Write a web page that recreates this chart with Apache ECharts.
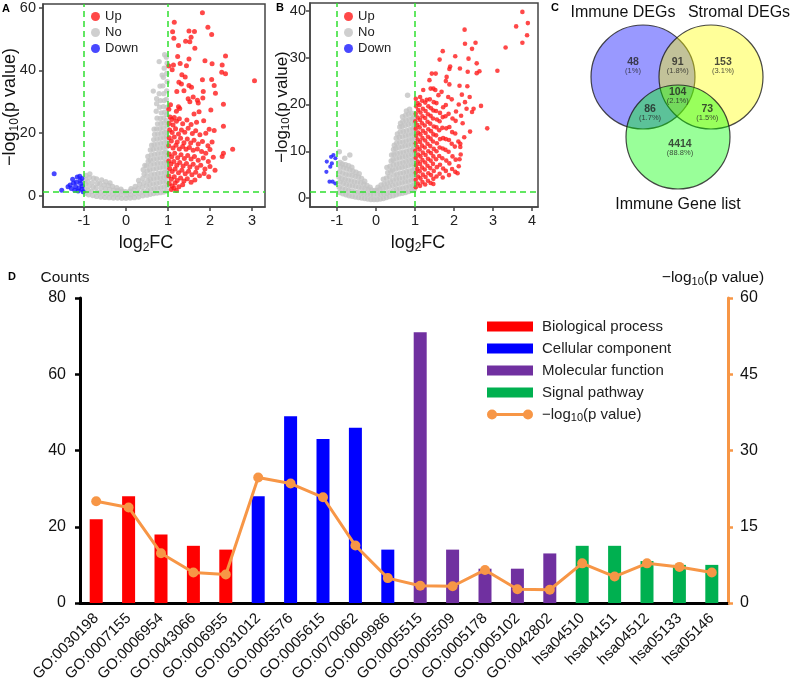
<!DOCTYPE html>
<html>
<head>
<meta charset="utf-8">
<script src="https://cdn.jsdelivr.net/npm/echarts@6/dist/echarts.min.js"></script>
<style>html,body{margin:0;padding:0;background:#fff}#c{width:791px;height:687px}</style>
</head>
<body>
<div id="c"></div>
<script>
// ---------- Panel A volcano (log2FC, -log10 p) ----------
const volcanoA_up = [
[1.82,58.3],[1.15,55.3],[1.95,53.7],[1.11,52.3],[1.50,52.5],[1.63,52.4],[2.04,51.4],[1.14,50.2],[1.55,50.5],[1.42,49.3],[1.52,49.1],[1.25,47.9],[1.64,47.0],[2.37,44.6],[1.23,44.4],[1.50,43.6],[1.88,43.1],[1.29,42.2],[1.02,41.4],[1.13,41.7],[2.05,42.1],[2.29,41.7],[1.44,41.5],[1.10,40.2],[2.28,39.4],[2.37,38.9],[1.33,38.6],[1.41,37.9],[1.82,37.0],[2.04,37.1],[3.06,36.7],[1.26,36.2],[1.32,35.7],[1.50,35.2],[1.56,34.6],[2.10,35.2],[1.21,33.3],[2.13,32.7],[1.38,33.5],[1.84,33.3],[1.60,31.5],[1.48,31.0],[1.52,30.0],[1.83,31.2],[1.70,30.5],[1.72,29.6],[2.32,29.2],[1.25,28.4],[1.28,27.9],[1.20,27.0],[2.02,27.4],[1.74,26.8],[1.62,26.1],[1.02,27.6],[1.06,29.1],
[1.05,25.2],[1.09,24.4],[1.15,25.0],[1.03,23.1],[1.12,22.6],[1.20,23.8],[1.27,24.6],[1.35,23.0],[1.45,24.2],[1.55,22.8],[1.68,23.5],[1.85,24.0],[2.32,22.2],[1.98,21.3],[2.10,20.9],[1.04,21.0],[1.10,20.2],[1.18,21.4],[1.25,19.8],[1.32,21.0],[1.40,20.3],[1.48,21.6],[1.58,19.9],[1.66,20.8],[1.76,19.5],[1.90,20.0],[1.03,18.6],[1.08,17.5],[1.15,18.8],[1.22,17.2],[1.30,18.4],[1.38,17.0],[1.46,18.2],[1.54,16.9],[1.62,17.8],[1.72,16.6],[1.82,17.4],[1.95,16.0],[2.05,17.2],[1.02,16.0],[1.12,15.3],[1.19,16.2],[1.27,15.0],[1.35,15.8],[1.43,14.9],[1.51,15.5],[1.60,14.6],[1.70,15.0],[1.80,14.2],[1.90,13.6],[2.00,14.8],[2.54,14.9],[2.32,13.6],[2.29,12.6],
[1.03,13.4],[1.09,12.5],[1.16,13.6],[1.23,12.2],[1.31,13.2],[1.39,12.0],[1.47,12.9],[1.55,11.8],[1.63,12.6],[1.72,11.4],[1.84,12.1],[1.96,11.0],[2.08,12.4],[1.02,11.2],[1.07,10.2],[1.14,11.0],[1.21,9.8],[1.28,10.7],[1.36,9.6],[1.44,10.4],[1.52,9.3],[1.60,10.1],[1.69,9.0],[1.78,9.8],[1.88,8.6],[2.00,9.4],[2.12,8.2],[1.04,8.8],[1.10,7.8],[1.17,8.6],[1.25,7.4],[1.33,8.2],[1.41,7.1],[1.49,7.9],[1.57,6.8],[1.66,7.6],[1.75,6.5],[1.86,7.2],[1.97,6.2],[1.02,6.4],[1.08,5.4],[1.15,6.2],[1.22,5.0],[1.30,5.8],[1.38,4.8],[1.46,5.5],[1.55,4.4],[1.64,5.1],[1.03,4.0],[1.10,3.2],[1.17,4.2],[1.26,3.0],[1.35,3.6],[1.08,2.1],[1.20,1.8],[1.14,2.6]
];
const volcanoA_no = [
[-0.97,0.9],[-0.98,2.4],[-0.96,3.9],[-0.97,5.3],[-0.95,6.6],[-0.89,0.4],[-0.90,1.8],[-0.88,3.2],[-0.91,4.6],[-0.87,5.9],[-0.86,7.1],
[-0.79,0.2],[-0.81,1.5],[-0.78,2.9],[-0.80,4.3],[-0.77,5.7],[-0.70,-0.1],[-0.69,1.3],[-0.71,2.7],[-0.68,4.1],[-0.70,5.5],
[-0.60,-0.3],[-0.61,1.1],[-0.59,2.5],[-0.62,3.9],[-0.58,5.2],[-0.50,-0.4],[-0.51,0.9],[-0.49,2.3],[-0.52,3.6],[-0.48,4.6],
[-0.40,-0.5],[-0.41,0.8],[-0.39,2.1],[-0.42,3.4],[-0.38,4.2],[-0.30,-0.6],[-0.31,0.7],[-0.29,1.9],[-0.32,3.1],
[-0.20,-0.6],[-0.21,0.6],[-0.19,1.8],[-0.22,2.7],[-0.10,-0.7],[-0.11,0.5],[-0.09,1.6],[-0.12,2.2],[0.00,-0.7],[0.01,0.4],[-0.01,1.4],
[0.10,-0.6],[0.11,0.5],[0.09,1.6],[0.12,2.4],[0.20,-0.5],[0.21,0.8],[0.19,2.0],[0.22,3.1],
[0.30,-0.3],[0.31,1.0],[0.29,2.4],[0.32,3.8],[0.30,5.0],[0.40,0.1],[0.41,1.4],[0.39,2.8],[0.42,4.2],[0.40,5.6],[0.43,7.0],[0.41,8.4],[0.45,9.8],
[0.50,0.3],[0.51,1.8],[0.49,3.3],[0.52,4.9],[0.50,6.4],[0.51,8.0],[0.49,9.6],[0.53,11.1],[0.52,12.6],
[0.58,0.6],[0.59,2.2],[0.57,3.7],[0.58,5.3],[0.60,6.8],[0.57,8.4],[0.59,10.0],[0.58,11.5],[0.60,13.1],[0.58,14.7],[0.61,16.2],
[0.66,0.8],[0.67,2.4],[0.65,3.9],[0.66,5.5],[0.68,7.0],[0.65,8.6],[0.67,10.2],[0.66,11.7],[0.68,13.3],[0.65,14.9],[0.67,16.4],[0.66,18.0],[0.68,19.6],[0.67,21.3],
[0.74,1.0],[0.75,2.6],[0.73,4.1],[0.74,5.7],[0.76,7.2],[0.73,8.8],[0.75,10.4],[0.74,11.9],[0.76,13.5],[0.73,15.1],[0.75,16.6],[0.74,18.2],[0.76,19.8],[0.73,21.4],[0.75,23.0],[0.74,24.8],[0.72,27.0],[0.73,29.4],
[0.82,1.1],[0.83,2.7],[0.81,4.3],[0.82,5.8],[0.84,7.4],[0.81,9.0],[0.83,10.5],[0.82,12.1],[0.84,13.7],[0.81,15.2],[0.83,16.8],[0.82,18.4],[0.84,20.0],[0.81,21.5],[0.83,23.1],[0.82,24.7],[0.84,26.5],[0.80,28.3],[0.82,30.4],[0.79,32.6],[0.81,35.0],[0.79,42.8],
[0.90,1.3],[0.91,2.9],[0.89,4.5],[0.90,6.0],[0.92,7.6],[0.89,9.2],[0.91,10.7],[0.90,12.3],[0.92,13.9],[0.89,15.4],[0.91,17.0],[0.90,18.6],[0.92,20.2],[0.89,21.7],[0.91,23.3],[0.90,24.9],[0.92,26.7],[0.89,28.5],[0.91,30.4],[0.90,32.6],[0.88,35.1],[0.89,37.8],[0.91,40.7],[0.92,45.0],
[0.97,1.6],[0.98,3.2],[0.96,4.7],[0.97,6.3],[0.98,7.9],[0.96,9.4],[0.97,11.0],[0.98,12.6],[0.96,14.1],[0.97,15.7],[0.98,17.3],[0.96,18.9],[0.97,20.4],[0.98,22.2],[0.96,24.0],[0.97,26.0],[0.98,28.3],[0.96,30.8],[0.97,33.5],[0.98,36.4],[0.97,39.0],[0.98,42.3],[0.96,44.2],
[0.65,33.4],[0.73,31.0],[0.86,38.5]
];
const volcanoA_down = [
[-1.71,7.1],[-1.53,1.9],[-1.27,5.4],[-1.25,4.2],[-1.16,6.1],[-1.10,6.3],[-1.05,5.6],[-1.33,3.5],[-1.20,3.0],[-1.12,2.6],[-1.05,2.2],[-1.18,4.4],[-1.08,4.0],[-1.30,2.4],[-1.22,1.9],[-1.04,3.2],[-1.14,1.6],[-1.02,1.4],[-1.38,3.0],[-1.09,5.0]
];

// ---------- Panel B volcano ----------
const volcanoB_up = [
[1.02,2.3],[1.02,3.9],[1.02,5.4],[1.03,7.0],[1.02,8.6],[1.01,10.1],[1.02,11.7],[1.03,13.3],[1.02,14.8],[1.01,16.4],[1.02,18.0],[1.03,19.6],[1.02,21.2],
[1.07,3.1],[1.08,4.6],[1.06,6.2],[1.07,7.8],[1.08,9.3],[1.06,10.9],[1.07,12.5],[1.08,14.0],[1.06,15.6],[1.07,17.2],[1.08,18.8],[1.07,20.3],
[1.13,2.6],[1.14,4.2],[1.12,5.7],[1.13,7.3],[1.14,8.9],[1.12,10.4],[1.13,12.0],[1.14,13.6],[1.12,15.1],[1.13,16.7],[1.14,18.3],[1.12,19.9],[1.13,21.6],
[1.19,3.4],[1.20,5.0],[1.18,6.5],[1.19,8.1],[1.20,9.7],[1.18,11.2],[1.19,12.8],[1.20,14.4],[1.18,16.0],[1.19,17.5],[1.20,19.1],[1.18,20.8],[1.21,23.1],
[1.26,2.9],[1.27,4.5],[1.25,6.1],[1.26,7.6],[1.27,9.2],[1.25,10.8],[1.26,12.3],[1.27,13.9],[1.25,15.5],[1.26,17.1],[1.27,18.6],[1.26,20.4],
[1.33,3.7],[1.34,5.3],[1.32,6.9],[1.33,8.4],[1.34,10.0],[1.32,11.6],[1.33,13.1],[1.34,14.7],[1.32,16.3],[1.33,17.9],[1.34,19.6],[1.30,21.0],[1.38,21.1],
[1.40,3.2],[1.41,4.9],[1.39,6.4],[1.40,8.0],[1.41,9.6],[1.39,11.1],[1.40,12.7],[1.41,14.3],[1.39,15.9],[1.40,17.6],[1.41,19.2],[1.40,23.4],[1.37,25.2],
[1.47,4.1],[1.48,5.8],[1.46,7.3],[1.47,8.9],[1.48,10.5],[1.46,12.1],[1.47,13.6],[1.48,15.3],[1.46,17.0],[1.47,18.7],[1.48,20.5],[1.47,23.4],[1.43,26.6],[1.53,26.6],[1.47,3.0],
[1.55,4.6],[1.56,6.6],[1.54,8.3],[1.55,10.0],[1.56,11.7],[1.54,13.4],[1.55,15.1],[1.56,16.8],[1.54,18.6],[1.55,20.3],[1.52,23.1],
[1.63,5.2],[1.64,7.1],[1.62,9.0],[1.63,10.8],[1.64,12.6],[1.62,14.5],[1.63,16.4],[1.64,18.2],[1.60,22.0],[1.68,22.7],[1.63,29.6],
[1.71,4.4],[1.72,6.3],[1.70,8.5],[1.71,10.6],[1.72,12.8],[1.70,15.0],[1.71,17.3],[1.72,19.4],[1.71,31.4],
[1.79,5.8],[1.80,8.0],[1.78,10.3],[1.79,12.6],[1.80,14.9],[1.78,17.5],[1.79,19.9],[1.81,25.9],[1.79,25.0],
[1.87,4.9],[1.88,7.4],[1.86,9.9],[1.87,12.4],[1.88,15.2],[1.86,18.0],[1.85,21.6],[1.88,24.3],[1.90,28.1],[1.88,27.6],
[1.95,6.2],[1.96,8.9],[1.94,11.6],[1.95,14.1],[1.96,17.0],[1.94,21.1],
[2.03,5.6],[2.04,8.2],[2.02,11.0],[2.03,13.8],[2.04,16.5],[2.03,30.3],[2.05,18.5],
[2.12,6.8],[2.11,12.1],[2.14,24.0],[2.16,11.6],[2.16,10.9],[2.17,9.3],[2.14,8.3],[2.09,5.3],[2.22,16.0],[2.28,20.5],[2.12,20.0],[2.40,21.6],[2.18,17.6],[2.20,22.1],
[3.75,39.8],[3.59,36.7],[3.89,37.4],[3.87,34.8],[3.75,33.2],[3.32,32.2],[2.27,36.0],[2.28,33.0],[2.55,33.2],[2.46,31.9],[2.37,29.8],[2.58,28.8],[2.15,27.7],[3.11,27.2],[2.35,27.0],[2.65,27.1],[2.58,26.7],[2.34,23.9],[2.69,19.7],[2.32,19.1],[2.50,19.1],[2.46,18.4],[2.85,14.9],[2.41,14.2],[2.26,13.0]
];
const volcanoB_no = [
[-0.94,9.9],[-0.67,9.2],[-0.80,8.5],
[-0.93,1.2],[-0.94,2.3],[-0.92,3.4],[-0.95,4.5],[-0.93,5.6],[-0.91,6.7],[-0.92,7.6],
[-0.85,0.9],[-0.86,2.0],[-0.84,3.1],[-0.87,4.2],[-0.85,5.3],[-0.83,6.4],[-0.86,7.3],
[-0.77,0.7],[-0.78,1.8],[-0.76,2.9],[-0.79,4.0],[-0.77,5.1],[-0.75,6.2],[-0.78,7.1],
[-0.69,0.5],[-0.70,1.6],[-0.68,2.7],[-0.71,3.8],[-0.69,4.9],[-0.67,6.0],[-0.70,6.9],
[-0.61,0.4],[-0.62,1.5],[-0.60,2.6],[-0.63,3.7],[-0.61,4.8],[-0.59,5.8],[-0.62,6.6],
[-0.53,0.2],[-0.54,1.3],[-0.52,2.4],[-0.55,3.5],[-0.53,4.6],[-0.51,5.5],
[-0.45,0.1],[-0.46,1.2],[-0.44,2.3],[-0.47,3.4],[-0.45,4.5],[-0.43,5.2],
[-0.37,0.0],[-0.38,1.0],[-0.36,2.1],[-0.39,3.2],[-0.37,4.2],
[-0.29,-0.1],[-0.30,0.9],[-0.28,2.0],[-0.31,3.0],[-0.29,3.6],
[-0.21,-0.2],[-0.22,0.8],[-0.20,1.8],[-0.23,2.7],
[-0.13,-0.3],[-0.14,0.7],[-0.12,1.7],[-0.15,2.3],
[-0.05,-0.3],[-0.06,0.7],[-0.04,1.6],
[0.03,-0.3],[0.04,0.7],[0.02,1.6],[0.05,2.3],
[0.11,-0.2],[0.12,0.8],[0.10,1.8],[0.13,2.8],
[0.19,-0.1],[0.20,0.9],[0.18,2.0],[0.21,3.0],[0.19,4.0],
[0.27,0.1],[0.28,1.1],[0.26,2.2],[0.29,3.2],[0.27,4.3],[0.30,5.4],[0.28,6.5],
[0.35,0.3],[0.36,1.3],[0.34,2.4],[0.37,3.5],[0.35,4.6],[0.38,5.7],[0.36,6.8],[0.39,7.9],[0.40,9.2],
[0.44,0.5],[0.45,1.6],[0.43,2.7],[0.44,3.8],[0.46,4.9],[0.43,6.0],[0.45,7.1],[0.44,8.2],[0.46,9.3],[0.45,10.4],[0.47,11.3],
[0.52,0.7],[0.53,1.8],[0.51,2.9],[0.52,4.0],[0.54,5.1],[0.51,6.2],[0.53,7.3],[0.52,8.4],[0.54,9.5],[0.51,10.6],[0.53,11.7],[0.52,12.8],[0.55,13.7],
[0.60,0.9],[0.61,2.0],[0.59,3.1],[0.60,4.2],[0.62,5.3],[0.59,6.4],[0.61,7.5],[0.60,8.6],[0.62,9.7],[0.59,10.8],[0.61,11.9],[0.60,13.0],[0.62,14.1],[0.61,15.2],[0.63,16.0],
[0.68,1.0],[0.69,2.1],[0.67,3.2],[0.68,4.3],[0.70,5.4],[0.67,6.5],[0.69,7.6],[0.68,8.7],[0.70,9.8],[0.67,10.9],[0.69,12.0],[0.68,13.1],[0.70,14.2],[0.67,15.3],[0.69,16.4],[0.68,17.4],
[0.76,1.2],[0.77,2.3],[0.75,3.4],[0.76,4.5],[0.78,5.6],[0.75,6.7],[0.77,7.8],[0.76,8.9],[0.78,10.0],[0.75,11.1],[0.77,12.2],[0.76,13.3],[0.78,14.4],[0.75,15.5],[0.77,16.6],[0.76,17.7],[0.78,18.6],
[0.84,1.4],[0.85,2.5],[0.83,3.6],[0.84,4.7],[0.86,5.8],[0.83,6.9],[0.85,8.0],[0.84,9.1],[0.86,10.2],[0.83,11.3],[0.85,12.4],[0.84,13.5],[0.86,14.6],[0.83,15.7],[0.85,16.8],[0.84,17.9],[0.86,19.0],[0.81,22.0],
[0.92,1.6],[0.93,2.7],[0.91,3.8],[0.92,4.9],[0.94,6.0],[0.91,7.1],[0.93,8.2],[0.92,9.3],[0.94,10.4],[0.91,11.5],[0.93,12.6],[0.92,13.7],[0.94,14.8],[0.91,15.9],[0.93,17.0],[0.92,18.1],
[0.98,1.8],[0.99,2.9],[0.97,4.0],[0.98,5.1],[0.99,6.2],[0.97,7.3],[0.98,8.4],[0.99,9.5],[0.97,10.6],[0.98,11.7],[0.99,12.8],[0.97,13.9],[0.98,15.0],[0.99,16.1],[0.97,17.2]
];
const volcanoB_down = [
[-1.09,9.2],[-1.04,8.5],[-1.15,8.8],[-1.26,7.8],[-1.13,7.4],[-1.17,6.7],[-1.27,5.6],[-1.19,3.5],[-1.11,3.5],[-1.04,3.1]
];

// axis ranges / ticks
const axA = {xMin:-1.976, xMax:3.31, yMin:-3.46, yMax:61.1, xTicks:[-1,0,1,2,3], yTicks:[0,20,40,60]};
const axB = {xMin:-1.69, xMax:4.15, yMin:-1.92, yMax:41.7, xTicks:[-1,0,1,2,3,4], yTicks:[0,10,20,30,40]};
const fcCut = [-1, 1];
const pCut = 1.3;

// ---------- Panel C Venn ----------
const vennSets = ['Immune DEGs', 'Stromal DEGs', 'Immune Gene list'];
const vennCounts = [48, 91, 153, 86, 104, 73, 4414];
const vennPercents = ['1%', '1.8%', '3.1%', '1.7%', '2.1%', '1.5%', '88.8%'];

// ---------- Panel D bars + line ----------
const categories = ['GO:0030198','GO:0007155','GO:0006954','GO:0043066','GO:0006955','GO:0031012','GO:0005576','GO:0005615','GO:0070062','GO:0009986','GO:0005515','GO:0005509','GO:0005178','GO:0005102','GO:0042802','hsa04510','hsa04151','hsa04512','hsa05133','hsa05146'];
const counts = [22, 28, 18, 15, 14, 28, 49, 43, 46, 14, 71, 14, 9, 9, 13, 15, 15, 11, 10, 10];
const groupIndex = [0,0,0,0,0,1,1,1,1,1,2,2,2,2,2,3,3,3,3,3];
const groupNames = ['Biological process', 'Cellular component', 'Molecular function', 'Signal pathway'];
const negLogP = [20.0, 18.8, 9.8, 6.0, 5.6, 24.7, 23.5, 20.8, 11.3, 4.9, 3.4, 3.3, 6.5, 2.7, 2.6, 7.8, 5.2, 7.8, 7.1, 6.0];
const lineName = '−log10(p value)';
const countTicks = {min:0, max:80, interval:20};
const pTicks = {min:0, max:60, interval:15};

// ---------- styles ----------
const FF = '"Liberation Sans", Arial, Helvetica, sans-serif';
const groupColors = ['#ff0000', '#0000ff', '#7030a0', '#00b050'];
const orange = '#f79646';
const vColors = {up:'#ff1a1a', no:'#c3c3c3', down:'#1a1aff'};
const dashGreen = '#2fe02f';
const vennColors = ['rgba(0,0,255,0.5)', 'rgba(255,255,0,0.5)', 'rgba(0,255,0,0.5)'];

function volcanoX(gi, ax) {
  return {
    type:'value', gridIndex:gi, min:ax.xMin, max:ax.xMax,
    axisLine:{show:true, onZero:false, lineStyle:{color:'#444', width:1.5}},
    axisTick:{show:true, inside:false, length:4, customValues:ax.xTicks, lineStyle:{color:'#444', width:1.5}},
    axisLabel:{customValues:ax.xTicks, fontSize:14.5, color:'#222', margin:6, fontFamily:FF},
    splitLine:{show:false}
  };
}
function volcanoY(gi, ax, margin) {
  return {
    type:'value', gridIndex:gi, min:ax.yMin, max:ax.yMax,
    axisLine:{show:true, onZero:false, lineStyle:{color:'#444', width:1.5}},
    axisTick:{show:true, inside:false, length:4, customValues:ax.yTicks, lineStyle:{color:'#444', width:1.5}},
    axisLabel:{customValues:ax.yTicks, fontSize:14.5, color:'#222', margin:margin, fontFamily:FF},
    splitLine:{show:false}
  };
}
function vSeries(name, data, gi, color, size, extra) {
  return Object.assign({
    type:'scatter', name:name, xAxisIndex:gi, yAxisIndex:gi, data:data,
    symbol:'circle', symbolSize:size, itemStyle:{color:color}, silent:true
  }, extra || {});
}
const cutLines = {
  silent:true, symbol:['none','none'], label:{show:false},
  lineStyle:{color:dashGreen, type:[6,4], width:1.5},
  data:[{xAxis:fcCut[0]}, {xAxis:fcCut[1]}, {yAxis:pCut}]
};

// Venn layout (pixel-like coordinates inside grid 2)
const vennCircleXY = [[63,57],[131,57],[98,117]];
const vennLabelXY = [[53,46],[97.7,46],[143,46],[70,92.7],[97.7,76],[127.3,92.7],[100,128]];

const subRich = (fs, pad) => ({sub:{fontSize:fs, fontFamily:FF, padding:[pad,0,0,0], fill:'#111', color:'#111'}});

const chart = echarts.init(document.getElementById('c'), null, {renderer:'canvas'});
const option = {
  animation:false,
  backgroundColor:'#fff',
  textStyle:{fontFamily:FF},
  grid:[
    {left:43, top:2, width:222, height:205, show:true, borderColor:'#444', borderWidth:1.5, containLabel:false},
    {left:310, top:3, width:228, height:204, show:true, borderColor:'#444', borderWidth:1.5, containLabel:false},
    {left:580, top:20, width:200, height:200, containLabel:false},
    {left:80, top:298, width:648, height:305, containLabel:false}
  ],
  xAxis:[
    volcanoX(0, axA),
    volcanoX(1, axB),
    {type:'value', gridIndex:2, min:0, max:200, show:false},
    {type:'category', gridIndex:3, data:categories,
     axisLine:{show:true, lineStyle:{color:'#000', width:3}},
     axisTick:{show:false},
     axisLabel:{interval:0, rotate:45, fontSize:15, color:'#111', margin:13, fontFamily:FF}}
  ],
  yAxis:[
    volcanoY(0, axA, 7),
    volcanoY(1, axB, 4),
    {type:'value', gridIndex:2, min:0, max:200, inverse:true, show:false},
    {type:'value', gridIndex:3, position:'left', min:countTicks.min, max:countTicks.max, interval:countTicks.interval,
     axisLine:{show:true, lineStyle:{color:'#000', width:3}},
     axisTick:{show:true, length:5, lineStyle:{color:'#000', width:2.5}},
     axisLabel:{fontSize:16, color:'#111', margin:14, fontFamily:FF},
     splitLine:{show:false}},
    {type:'value', gridIndex:3, position:'right', min:pTicks.min, max:pTicks.max, interval:pTicks.interval,
     axisLine:{show:true, lineStyle:{color:orange, width:3}},
     axisTick:{show:true, length:5, lineStyle:{color:orange, width:2.5}},
     axisLabel:{fontSize:16, color:'#111', margin:12, fontFamily:FF},
     splitLine:{show:false}}
  ],
  legend:[
    {data:['Up','No','Down'], left:86, top:5, orient:'vertical', icon:'circle', itemWidth:9, itemHeight:9, itemGap:3,
     selectedMode:false, textStyle:{fontSize:13, color:'#222', fontFamily:FF}},
    {data:['Up','No','Down'], left:339, top:5, orient:'vertical', icon:'circle', itemWidth:9, itemHeight:9, itemGap:3,
     selectedMode:false, textStyle:{fontSize:13, color:'#222', fontFamily:FF}},
    {data: groupNames.map(n => ({name:n, icon:'rect'})).concat([{name:lineName,
       icon:'path://M0,5A5,5,0,1,1,10,5A5,5,0,1,1,0,5ZM36,5A5,5,0,1,1,46,5A5,5,0,1,1,36,5ZM5,3.5L41,3.5L41,6.5L5,6.5Z'}]),
     left:482, top:314, orient:'vertical', itemWidth:46, itemHeight:10, itemGap:7, selectedMode:false,
     formatter: n => n === lineName ? '−log{sub|10}(p value)' : n,
     textStyle:{fontSize:15, color:'#222', fontFamily:FF, padding:[0,0,0,4], rich:subRich(11, 7)}}
  ],
  series:[
    vSeries('No', volcanoA_no, 0, vColors.no, 5.3),
    vSeries('Down', volcanoA_down, 0, vColors.down, 5),
    vSeries('Up', volcanoA_up, 0, vColors.up, 5, {markLine:cutLines}),
    vSeries('No', volcanoB_no, 1, vColors.no, 5.5),
    vSeries('Down', volcanoB_down, 1, vColors.down, 4.2),
    vSeries('Up', volcanoB_up, 1, vColors.up, 4.6, {markLine:cutLines}),
    {type:'scatter', name:'venn', xAxisIndex:2, yAxisIndex:2, silent:true, symbol:'circle', symbolSize:104,
     data: vennCircleXY.map((p,i) => ({value:p, itemStyle:{color:vennColors[i], borderColor:'#1a1a1a', borderWidth:1.2}}))},
    {type:'scatter', name:'vennLabels', xAxisIndex:2, yAxisIndex:2, silent:true, symbolSize:1, z:5,
     itemStyle:{color:'rgba(0,0,0,0)'},
     data: vennLabelXY.map((p,i) => ({value:p, label:{show:true, position:'inside',
       formatter:'{n|' + vennCounts[i] + '}\n{p|(' + vennPercents[i] + ')}',
       rich:{n:{fontSize:10.5, fontWeight:'bold', color:'#222', lineHeight:10, fontFamily:FF, align:'center'},
             p:{fontSize:7.5, color:'#222', lineHeight:8, fontFamily:FF, align:'center'}}}}))},
    ...groupNames.map((g, gi) => ({
      type:'bar', name:g, xAxisIndex:3, yAxisIndex:3, stack:'d', barWidth:13,
      data: counts.map((v,i) => groupIndex[i] === gi ? v : null),
      itemStyle:{color:groupColors[gi]}
    })),
    {type:'line', name:lineName, xAxisIndex:3, yAxisIndex:4, data:negLogP, z:5,
     symbol:'circle', symbolSize:10, lineStyle:{color:orange, width:3}, itemStyle:{color:orange}}
  ],
  graphic:[
    {type:'text', x:6, y:9, style:{text:'A', fontSize:11, fontWeight:'bold', fontFamily:FF, fill:'#000', align:'center', verticalAlign:'middle'}},
    {type:'text', x:280, y:8, style:{text:'B', fontSize:11, fontWeight:'bold', fontFamily:FF, fill:'#000', align:'center', verticalAlign:'middle'}},
    {type:'text', x:555, y:8, style:{text:'C', fontSize:11, fontWeight:'bold', fontFamily:FF, fill:'#000', align:'center', verticalAlign:'middle'}},
    {type:'text', x:12, y:277, style:{text:'D', fontSize:11, fontWeight:'bold', fontFamily:FF, fill:'#000', align:'center', verticalAlign:'middle'}},
    {type:'text', x:10, y:107, rotation:Math.PI/2, style:{text:'−log{sub|10}(p value)', fontSize:18, fontFamily:FF, fill:'#111', align:'center', verticalAlign:'middle', rich:subRich(12, 9)}},
    {type:'text', x:282, y:107, rotation:Math.PI/2, style:{text:'−log{sub|10}(p value)', fontSize:17, fontFamily:FF, fill:'#111', align:'center', verticalAlign:'middle', rich:subRich(11.5, 8)}},
    {type:'text', x:146, y:243, style:{text:'log{sub|2}FC', fontSize:18, fontFamily:FF, fill:'#111', align:'center', verticalAlign:'middle', rich:subRich(12, 9)}},
    {type:'text', x:418, y:243, style:{text:'log{sub|2}FC', fontSize:18, fontFamily:FF, fill:'#111', align:'center', verticalAlign:'middle', rich:subRich(12, 9)}},
    {type:'text', x:623, y:13, style:{text:vennSets[0], fontSize:16, fontFamily:FF, fill:'#111', align:'center', verticalAlign:'middle'}},
    {type:'text', x:739, y:13, style:{text:vennSets[1], fontSize:16, fontFamily:FF, fill:'#111', align:'center', verticalAlign:'middle'}},
    {type:'text', x:678, y:205, style:{text:vennSets[2], fontSize:16, fontFamily:FF, fill:'#111', align:'center', verticalAlign:'middle'}},
    {type:'text', x:65, y:278, style:{text:'Counts', fontSize:15.5, fontFamily:FF, fill:'#111', align:'center', verticalAlign:'middle'}},
    {type:'text', x:713, y:278, style:{text:'−log{sub|10}(p value)', fontSize:15.5, fontFamily:FF, fill:'#111', align:'center', verticalAlign:'middle', rich:subRich(11, 7)}}
  ]
};
chart.setOption(option);
</script>
</body>
</html>
